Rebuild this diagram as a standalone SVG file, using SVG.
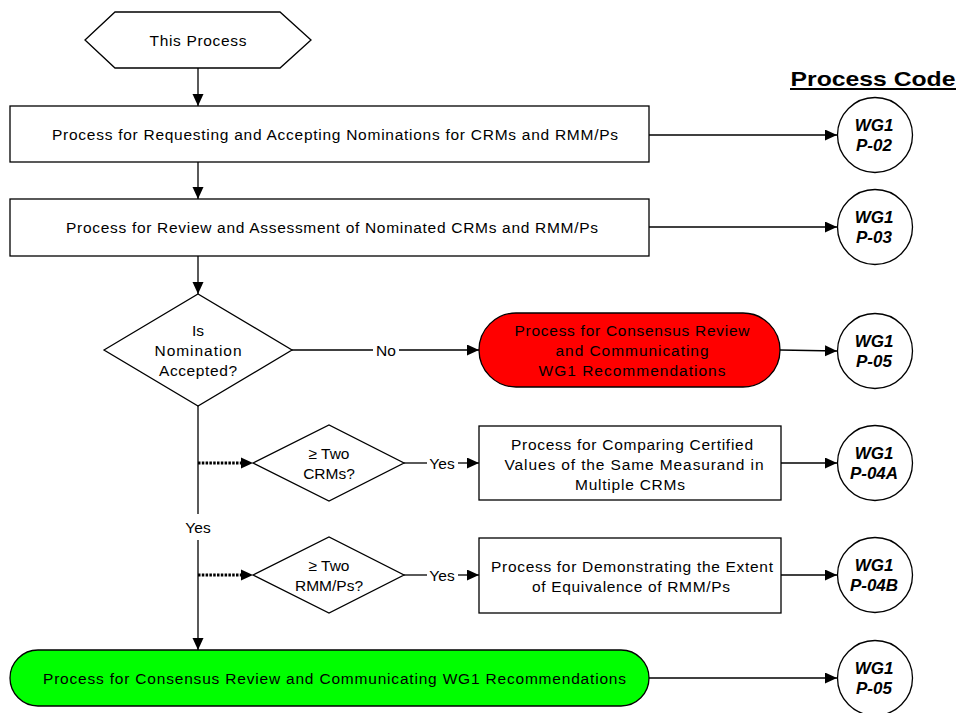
<svg xmlns="http://www.w3.org/2000/svg" width="963" height="713" viewBox="0 0 963 713">
<style>
text{font-family:"Liberation Sans",Arial,sans-serif;font-size:15.5px;fill:#000;text-anchor:middle;dominant-baseline:central}
.shape{fill:#fff;stroke:#000;stroke-width:1.3}
.code{font-weight:bold;font-style:italic;font-size:17px}
.conn{fill:none;stroke:#000;stroke-width:1.3}
.dot{fill:none;stroke:#000;stroke-width:3;stroke-dasharray:2.5 1.3}
</style>
<defs>
<marker id="arr" markerUnits="userSpaceOnUse" markerWidth="13" markerHeight="12" refX="12" refY="5.5" orient="auto">
<path d="M0,0 L12,5.5 L0,11 z" fill="#000"/>
</marker>
</defs>
<rect width="963" height="713" fill="#fff"/>

<g id="connectors">
<line class="conn" x1="198" y1="68" x2="198" y2="106" marker-end="url(#arr)"/>
<line class="conn" x1="198" y1="162" x2="198" y2="199" marker-end="url(#arr)"/>
<line class="conn" x1="198" y1="256" x2="198" y2="294" marker-end="url(#arr)"/>
<line class="conn" x1="649" y1="135" x2="837" y2="135" marker-end="url(#arr)"/>
<line class="conn" x1="649" y1="227" x2="837" y2="227" marker-end="url(#arr)"/>
<line class="conn" x1="292" y1="350" x2="373" y2="350"/>
<line class="conn" x1="399" y1="350" x2="479" y2="350" marker-end="url(#arr)"/>
<text x="386" y="350">No</text>
<line class="conn" x1="780" y1="350" x2="837" y2="351" marker-end="url(#arr)"/>
<line class="conn" x1="198" y1="406" x2="198" y2="514"/>
<line class="conn" x1="198" y1="540" x2="198" y2="650" marker-end="url(#arr)"/>
<text x="198" y="527">Yes</text>
<line class="dot" x1="198" y1="463" x2="243" y2="463"/>
<path d="M241,457.5 L253,463 L241,468.5 z" fill="#000"/>
<line class="dot" x1="198" y1="575" x2="243" y2="575"/>
<path d="M241,569.5 L253,575 L241,580.5 z" fill="#000"/>
<line class="conn" x1="404" y1="463" x2="427" y2="463"/>
<line class="conn" x1="458" y1="463" x2="479" y2="463" marker-end="url(#arr)"/>
<text x="442" y="463">Yes</text>
<line class="conn" x1="404" y1="575" x2="427" y2="575"/>
<line class="conn" x1="458" y1="575" x2="479" y2="575" marker-end="url(#arr)"/>
<text x="442" y="575">Yes</text>
<line class="conn" x1="781" y1="463" x2="837" y2="463" marker-end="url(#arr)"/>
<line class="conn" x1="781" y1="575" x2="837" y2="575" marker-end="url(#arr)"/>
<line class="conn" x1="649" y1="678" x2="837" y2="678" marker-end="url(#arr)"/>
</g>

<g id="title">
<text x="873" y="78" style="font-weight:bold;font-size:21px" textLength="165" lengthAdjust="spacingAndGlyphs">Process Code</text>
<line x1="790" y1="89" x2="956" y2="89" stroke="#000" stroke-width="1.8"/>
</g>

<g id="start">
<polygon class="shape" points="85,40 115,12 280,12 311,40 280,68 115,68"/>
<text x="198" y="40" textLength="97" lengthAdjust="spacing">This Process</text>
</g>

<g id="p02">
<rect class="shape" x="10" y="106" width="639" height="56"/>
<text x="335" y="134" textLength="566" lengthAdjust="spacing">Process for Requesting and Accepting Nominations for CRMs and RMM/Ps</text>
</g>

<g id="p03">
<rect class="shape" x="10" y="199" width="639" height="57"/>
<text x="332" y="227" textLength="532" lengthAdjust="spacing">Process for Review and Assessment of Nominated CRMs and RMM/Ps</text>
</g>

<g id="decision1">
<polygon class="shape" points="104,350 198,294 292,350 198,406"/>
<text x="198" y="330">Is</text>
<text x="198" y="350" textLength="87" lengthAdjust="spacing">Nomination</text>
<text x="198" y="370" textLength="78" lengthAdjust="spacing">Accepted?</text>
</g>

<g id="reject">
<rect x="479" y="313" width="301" height="74" rx="37" ry="37" fill="#ff0000" stroke="#000" stroke-width="1.3"/>
<text x="632" y="330" textLength="235" lengthAdjust="spacing">Process for Consensus Review</text>
<text x="632" y="350" textLength="153" lengthAdjust="spacing">and Communicating</text>
<text x="632" y="370" textLength="187" lengthAdjust="spacing">WG1 Recommendations</text>
</g>

<g id="decision2">
<polygon class="shape" points="253,463 329,425 404,463 329,501"/>
<text x="329" y="453">≥ Two</text>
<text x="329" y="473">CRMs?</text>
</g>

<g id="p04a">
<rect class="shape" x="479" y="426" width="302" height="74"/>
<text x="632" y="444" textLength="242" lengthAdjust="spacing">Process for Comparing Certified</text>
<text x="634" y="464" textLength="259" lengthAdjust="spacing">Values of the Same Measurand in</text>
<text x="630" y="484" textLength="110" lengthAdjust="spacing">Multiple CRMs</text>
</g>

<g id="decision3">
<polygon class="shape" points="253,575 329,537 404,575 329,613"/>
<text x="329" y="565">≥ Two</text>
<text x="329" y="585">RMM/Ps?</text>
</g>

<g id="p04b">
<rect class="shape" x="479" y="538" width="302" height="75"/>
<text x="632" y="566" textLength="282" lengthAdjust="spacing">Process for Demonstrating the Extent</text>
<text x="631" y="586" textLength="198" lengthAdjust="spacing">of Equivalence of RMM/Ps</text>
</g>

<g id="accept">
<rect x="10" y="650" width="639" height="56" rx="28" ry="28" fill="#00ff00" stroke="#000" stroke-width="1.3"/>
<text x="334.5" y="678" textLength="583" lengthAdjust="spacing">Process for Consensus Review and Communicating WG1 Recommendations</text>
</g>

<g id="code-p02"><circle class="shape" cx="875" cy="135" r="37.5"/><text class="code" x="874" y="125">WG1</text><text class="code" x="874" y="145">P-02</text></g>
<g id="code-p03"><circle class="shape" cx="875" cy="227" r="37.5"/><text class="code" x="874" y="217">WG1</text><text class="code" x="874" y="237">P-03</text></g>
<g id="code-p05a"><circle class="shape" cx="875" cy="351" r="37.5"/><text class="code" x="874" y="341">WG1</text><text class="code" x="874" y="361">P-05</text></g>
<g id="code-p04a"><circle class="shape" cx="875" cy="463" r="37.5"/><text class="code" x="874" y="453">WG1</text><text class="code" x="874" y="473">P-04A</text></g>
<g id="code-p04b"><circle class="shape" cx="875" cy="575" r="37.5"/><text class="code" x="874" y="565">WG1</text><text class="code" x="874" y="585">P-04B</text></g>
<g id="code-p05b"><circle class="shape" cx="875" cy="678" r="37.5"/><text class="code" x="874" y="668">WG1</text><text class="code" x="874" y="688">P-05</text></g>
</svg>
